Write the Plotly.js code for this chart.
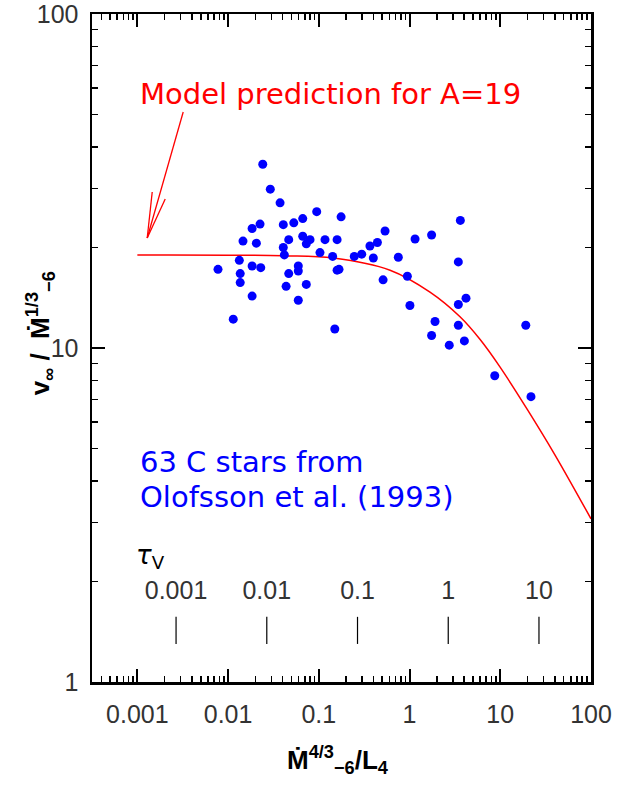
<!DOCTYPE html>
<html>
<head>
<meta charset="utf-8">
<script src="https://cdn.plot.ly/plotly-3.0.1.min.js"></script>
<style>html,body{margin:0;padding:0;background:#fff;}#chart{width:637px;height:785px;}</style>
</head>
<body>
<div id="chart"></div>
<script>
// Observed C stars (Olofsson et al. 1993): x = Mdot^(4/3)/L4, y = v_inf / Mdot^(1/3)
const starX = [0.0241,0.0292,0.0374,0.0948,0.0665,0.0530,0.176,0.0406,0.0225,0.0184,
  0.537,0.0146,0.0205,0.0466,0.0665,0.0800,0.0728,0.117,0.159,0.442,
  0.366,0.0406,0.103,0.0417,0.297,0.246,0.142,0.399,0.0133,0.00774,
  0.0184,0.0229,0.0594,0.0594,0.0466,0.159,0.167,0.0136,0.0136,0.511,
  0.0728,0.0436,0.0184,0.0594,0.0114,0.150,0.752,1.15,1.75,3.63,
  3.45,0.946,1.01,1.91,1.75,3.45,4.19,3.45,4.02,2.74,
  8.69,19.1,21.8];
const starY = [35.5,29.9,27.2,25.6,24.4,23.7,24.7,23.4,23.5,22.8,
  22.4,20.9,20.6,21.1,21.6,21.1,20.5,21.1,21.1,20.7,
  20.2,20.0,19.3,19.0,19.1,18.8,18.8,18.6,18.3,17.2,
  17.6,17.4,17.6,17.0,16.7,17.1,17.2,16.7,15.7,16.0,
  15.5,15.3,14.3,13.9,12.2,11.4,18.7,21.2,21.8,24.1,
  18.1,16.4,13.4,12.0,10.9,13.5,14.1,11.7,10.5,10.2,
  8.26,11.7,7.15];

// Model prediction for A=19
const modelX = [0.001,0.04,0.145,0.61,1.68,3.6,6.0,10,20,40,100];
const modelY = [19.0,18.9,18.6,17.1,14.7,12.4,10.6,8.75,6.53,4.79,3.08];

// Secondary scale: tau_V
const tauVals = [0.001,0.01,0.1,1,10];
const tauLabels = ['0.001','0.01','0.1','1','10'];
const tauToX = 2.67;          // x value corresponding to tau_V = 1
const tauTickY = [1.30, 1.567];
const tauLabelY = 1.85;

const xTickVals = [0.001,0.01,0.1,1,10,100];
const xTickText = ['0.001','0.01','0.1','1','10','100'];
const yTickVals = [1,10,100];
const yTickText = ['1','10','100'];

const tickX = [], tickY = [];
tauVals.forEach(t => { tickX.push(t*tauToX, t*tauToX, null); tickY.push(tauTickY[0], tauTickY[1], null); });

const tickFont = {family:'Liberation Sans, Arial, sans-serif', size:25, color:'#333'};
const noteFont = (c) => ({family:'DejaVu Sans, sans-serif', size:29, color:c});

const traces = [
  {x: modelX, y: modelY, mode:'lines', line:{color:'#ff0000', width:1.5, shape:'spline', smoothing:1}, hoverinfo:'skip'},
  {x: starX, y: starY, mode:'markers', marker:{color:'#0000ff', size:9}},
  {x: tickX, y: tickY, mode:'lines', line:{color:'#000', width:1.2}, hoverinfo:'skip'},
  {x: tauVals.map(t => t*tauToX), y: tauVals.map(() => tauLabelY), mode:'text', text: tauLabels,
   textfont: tickFont, textposition:'middle center', hoverinfo:'skip'}
];

const axisCommon = {
  type:'log', showgrid:false, zeroline:false, showline:true, linecolor:'#000', linewidth:2.5,
  mirror:'allticks', ticks:'inside', ticklen:13, tickwidth:2, tickcolor:'#000',
  tickfont: tickFont, tickmode:'array', ticklabeloverflow:'allow',
  minor:{ticks:'inside', ticklen:6, tickwidth:1.5, tickcolor:'#000', dtick:'D1', showgrid:false}
};

const W0 = 91.75, PW = 499.25, B0 = 682, PH = 668;
const px = v => (v - W0)/PW, py = v => (B0 - v)/PH;

const layout = {
  width:637, height:785,
  margin:{l:92, r:46, t:14, b:103},
  paper_bgcolor:'#fff', plot_bgcolor:'#fff',
  showlegend:false,
  xaxis: Object.assign({}, axisCommon, {range:[-3.5,2], tickvals:xTickVals, ticktext:xTickText, ticklabelstandoff:8}),
  yaxis: Object.assign({}, axisCommon, {range:[0,2], tickvals:yTickVals, ticktext:yTickText, ticklabelstandoff:6}),
  annotations: [
    {xref:'paper', yref:'paper', x:px(138), y:py(94), xanchor:'left', yanchor:'middle', showarrow:false,
     text:'Model prediction for A=19', font:noteFont('#ff0000')},
    {xref:'paper', yref:'paper', x:px(138), y:py(462), xanchor:'left', yanchor:'middle', showarrow:false,
     text:'63 C stars from', font:noteFont('#0000ff')},
    {xref:'paper', yref:'paper', x:px(138), y:py(497), xanchor:'left', yanchor:'middle', showarrow:false,
     text:'Olofsson et al. (1993)', font:noteFont('#0000ff')},
    {xref:'paper', yref:'paper', x:px(134), y:py(556), xanchor:'left', yanchor:'middle', showarrow:false,
     text:'<i>τ</i><sub>V</sub>', font:{family:'DejaVu Sans, sans-serif', size:26, color:'#000'}},
    {xref:'paper', yref:'paper', x:px(40), y:py(333), xanchor:'center', yanchor:'middle', showarrow:false, textangle:-90,
     text:'<b>v<sub>∞</sub> /  Ṁ<sup>1/3</sup><sub>−6</sub></b>', font:{family:'Liberation Sans, Arial, sans-serif', size:26, color:'#000'}},
    {xref:'paper', yref:'paper', x:px(338), y:py(760), xanchor:'center', yanchor:'middle', showarrow:false,
     text:'<b>Ṁ<sup>4/3</sup><sub>−6</sub>/L<sub>4</sub></b>', font:{family:'Liberation Sans, Arial, sans-serif', size:26, color:'#000'}}
  ],
  shapes: [
    {type:'line', xref:'paper', yref:'paper', x0:px(183), y0:py(112), x1:px(147), y1:py(238), line:{color:'#ff0000', width:1.3}},
    {type:'line', xref:'paper', yref:'paper', x0:px(147), y0:py(238), x1:px(152), y1:py(192), line:{color:'#ff0000', width:1.3}},
    {type:'line', xref:'paper', yref:'paper', x0:px(147), y0:py(238), x1:px(165), y1:py(199), line:{color:'#ff0000', width:1.3}}
  ]
};

Plotly.newPlot('chart', traces, layout, {displayModeBar:false, staticPlot:true});
</script>
</body>
</html>
